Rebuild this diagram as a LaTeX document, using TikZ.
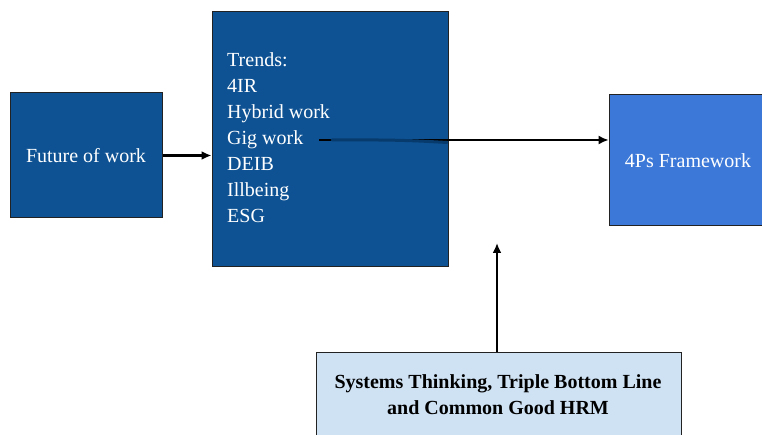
\documentclass[tikz,border=0pt]{standalone}
\usepackage{fontspec}
\setmainfont{Liberation Serif}
\usetikzlibrary{arrows.meta}
\definecolor{deepblue}{HTML}{0E5293}
\definecolor{midblue}{HTML}{3C78D8}
\definecolor{paleblue}{HTML}{CFE2F3}
\definecolor{inkblue}{HTML}{073B6E}
\definecolor{edgegray}{HTML}{222222}
\tikzset{
  box/.style={draw=edgegray, line width=1pt, inner sep=0pt, minimum width=#1},
  lbl/.style={text=white, font=\fontsize{20}{26}\selectfont, inner sep=0pt},
  boldlbl/.style={text=black, font=\fontsize{20}{26}\selectfont\bfseries, inner sep=0pt, align=center},
  tip/.style={-{Latex[length=10pt,width=9pt]}}
}
\begin{document}
\begin{tikzpicture}[x=1pt,y=-1pt]
\useasboundingbox (0,0) rectangle (762,435);
% boxes
\node[box=152, fill=deepblue, minimum height=125] (future) at (86,155.5) {};
\node[lbl] (futuretext) at (86,155.5) {Future of work};
\node[box=236, fill=deepblue, minimum height=255] (trends) at (330,139.5) {};
\node[lbl, anchor=north west, align=left] (trendtext) at (227,52.3)
  {Trends:\\4IR\\Hybrid work\\Gig work\\DEIB\\Illbeing\\ESG};
\node[box=154, fill=midblue, minimum height=131] (fps) at (686,160.5) {};
\node[lbl] (fpstext) at (688,160.5) {4Ps Framework};
\node[box=365, fill=paleblue, minimum height=100] (base) at (498.5,402) {};
\node[boldlbl] (basetext) at (498,395)
  {Systems Thinking, Triple Bottom Line\\and Common Good HRM};
% connectors
\coordinate (gig) at (319,140);
\coordinate (risebase) at (497,352);
\coordinate (risetop) at (497,243);
\draw[tip, line width=2.6pt] (future.east) -- (future.east -| trends.west);
\draw[tip, line width=1.5pt] (gig) -- (gig -| fps.west);
\draw[inkblue, line width=3pt, line cap=round] (332,140) .. controls (400,139.5) and (420,141) .. (447,142.5);
\draw[tip, line width=2.4pt] (risebase) -- (risetop);
\end{tikzpicture}
\end{document}
